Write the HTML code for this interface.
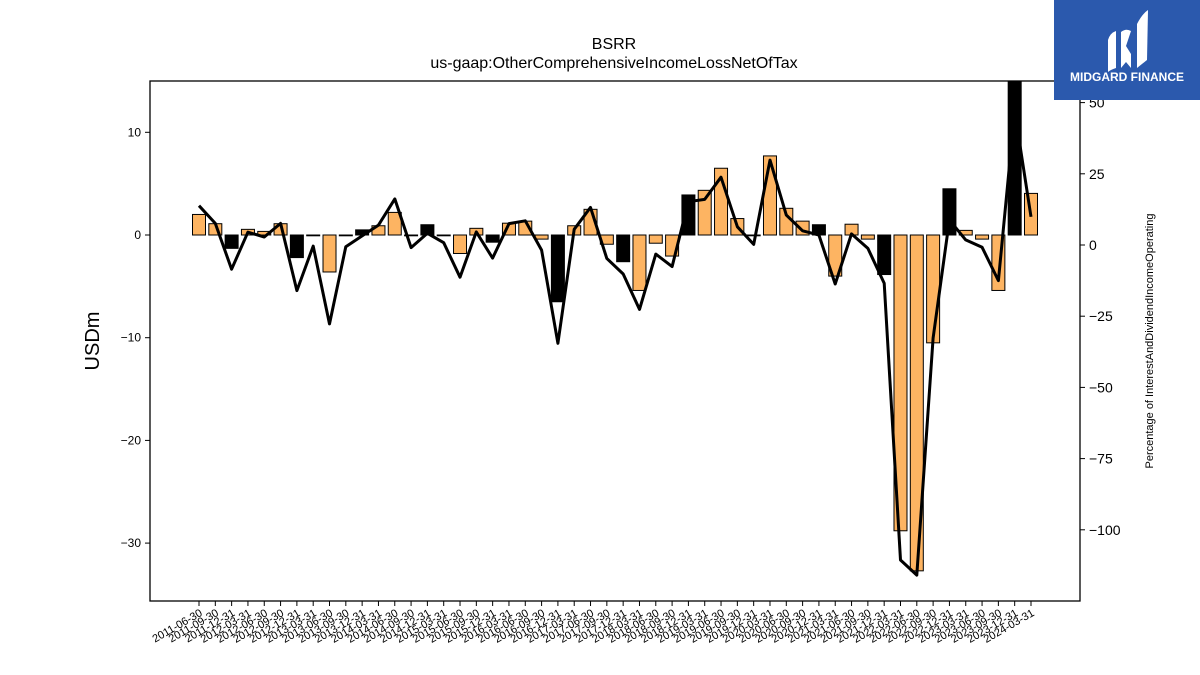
<!DOCTYPE html>
<html><head><meta charset="utf-8"><style>
body{margin:0;background:#fff;}
svg{display:block;font-family:"Liberation Sans","DejaVu Sans",sans-serif;}
</style></head><body>
<svg id="chart" width="1200" height="675" viewBox="0 0 1200 675">
<text x="614" y="49" text-anchor="middle" font-size="16">BSRR</text>
<text x="614" y="68" text-anchor="middle" font-size="16">us-gaap:OtherComprehensiveIncomeLossNetOfTax</text>
<text transform="translate(99,341) rotate(-90)" text-anchor="middle" font-size="20">USDm</text>
<text transform="translate(1153,341) rotate(-90)" text-anchor="middle" font-size="11">Percentage of InterestAndDividendIncomeOperating</text>
<g id="plot"></g>
<rect x="150" y="81" width="930" height="520" fill="none" stroke="#000" stroke-width="1.3"/>
<g>
<rect x="1054" y="0" width="146" height="100" fill="#2b59ad"/>
<path d="M1108 40 Q1110 33 1116 31 L1116 68 Q1110 70 1108 72 Z" fill="#fff"/>
<path d="M1121 32 Q1126 28 1131 31 L1126 46 L1131 54 L1131 68 L1126 62 L1121 68 Z" fill="#fff"/>
<path d="M1137 24 Q1142 14 1148 10 L1147 60 Q1142 64 1137 68 Z" fill="#fff"/>
<text x="1127" y="81" text-anchor="middle" font-size="12" font-weight="bold" fill="#fff">MIDGARD FINANCE</text>
</g>
</svg>
<script>
const categories = [];
(function(){const ends=['03-31','06-30','09-30','12-31'];for(let y=2011;y<=2024;y++)for(let q=0;q<4;q++){if(y===2011&&q===0)continue;if(y===2024&&q>0)continue;categories.push(y+'-'+ends[q]);}})();
const barValues = [2.0,1.1,-1.3,0.55,0.35,1.1,-2.2,-0.05,-3.6,-0.05,0.5,0.9,2.2,-0.05,1.0,-0.05,-1.8,0.65,-0.7,1.15,1.35,-0.4,-6.5,0.9,2.5,-0.9,-2.6,-5.4,-0.8,-2.05,3.9,4.35,6.5,1.6,-0.05,7.7,2.6,1.35,1.0,-4.0,1.05,-0.4,-3.85,-28.8,-32.7,-10.5,4.5,0.45,-0.4,-5.4,16,4.05];
const barDark = [0,0,1,0,0,0,1,1,0,1,1,0,0,1,1,1,0,0,1,0,0,0,1,0,0,0,1,0,0,0,1,0,0,0,1,0,0,0,1,0,0,0,1,0,0,0,1,0,0,0,1,0];
const pctValues = [13.8,7.6,-8.5,4.5,2.8,7.6,-16,-0.4,-27.7,-0.6,3.2,7.0,16.2,-0.9,4.1,0.8,-11.3,4.6,-4.6,7.5,8.5,-1.8,-34.5,5.5,13.2,-4.7,-10.2,-22.6,-3.2,-7.6,15.2,16.0,23.8,6.4,0.2,29.8,10.5,5.0,3.5,-13.7,3.9,-1.2,-13.4,-110.6,-115.9,-32.7,8.8,1.8,-0.8,-12.5,47,9.9];
const leftTicks = [10,0,-10,-20,-30];
const leftTickLabels = ['10','0','\u221210','\u221220','\u221230'];
const rightTicks = [50,25,0,-25,-50,-75,-100];
const rightTickLabels = ['50','25','0','\u221225','\u221250','\u221275','\u2212100'];

const NS='http://www.w3.org/2000/svg';
const PL=150,PR=1080,PT=81,PB=601;
const yL=v=>235-v*10.27;
const yR=v=>245-v*2.848;
const xC=i=>199+i*(1031-199)/(categories.length-1);
const g=document.getElementById('plot');
const svg=document.getElementById('chart');
function mk(t,a,p){const e=document.createElementNS(NS,t);for(const k in a)e.setAttribute(k,a[k]);(p||g).appendChild(e);return e;}
const defs=mk('defs',{},svg);
const cp=mk('clipPath',{id:'clip'},defs);mk('rect',{x:PL,y:PT,width:PR-PL,height:PB-PT},cp);
const bg=mk('g',{'clip-path':'url(#clip)'});
const bw=13;
barValues.forEach((v,i)=>{
 const y0=yL(0),y1=yL(v);
 const r=mk('rect',{x:xC(i)-bw/2,y:Math.min(y0,y1),width:bw,height:Math.max(Math.abs(y1-y0),0.8),fill:barDark[i]?'#000':'#fdb462',stroke:'#000','stroke-width':1},bg);
 
 
});
const pts=pctValues.map((v,i)=>xC(i).toFixed(1)+','+yR(v).toFixed(1)).join(' ');
const ln=mk('polyline',{points:pts,fill:'none',stroke:'#000','stroke-width':3,'stroke-linejoin':'round'},bg);


leftTicks.forEach((v,i)=>{
 const y=yL(v);
 mk('line',{x1:PL-5,x2:PL,y1:y,y2:y,stroke:'#000'});
 const t=mk('text',{x:PL-9,y:y+4,'text-anchor':'end','font-size':12});t.textContent=leftTickLabels[i];
 
 
});
rightTicks.forEach((v,i)=>{
 const y=yR(v);
 mk('line',{x1:PR,x2:PR+5,y1:y,y2:y,stroke:'#000'});
 const t=mk('text',{x:PR+9,y:y+5,'font-size':14});t.textContent=rightTickLabels[i];
 
 
});
categories.forEach((c,i)=>{
 const x=xC(i);
 mk('line',{x1:x,x2:x,y1:PB,y2:PB+5,stroke:'#000'});
 const t=mk('text',{transform:'translate('+(x+4)+','+(PB+14)+') rotate(-30)','text-anchor':'end','font-size':11});t.textContent=c;
 
 
});
</script>
</body></html>
